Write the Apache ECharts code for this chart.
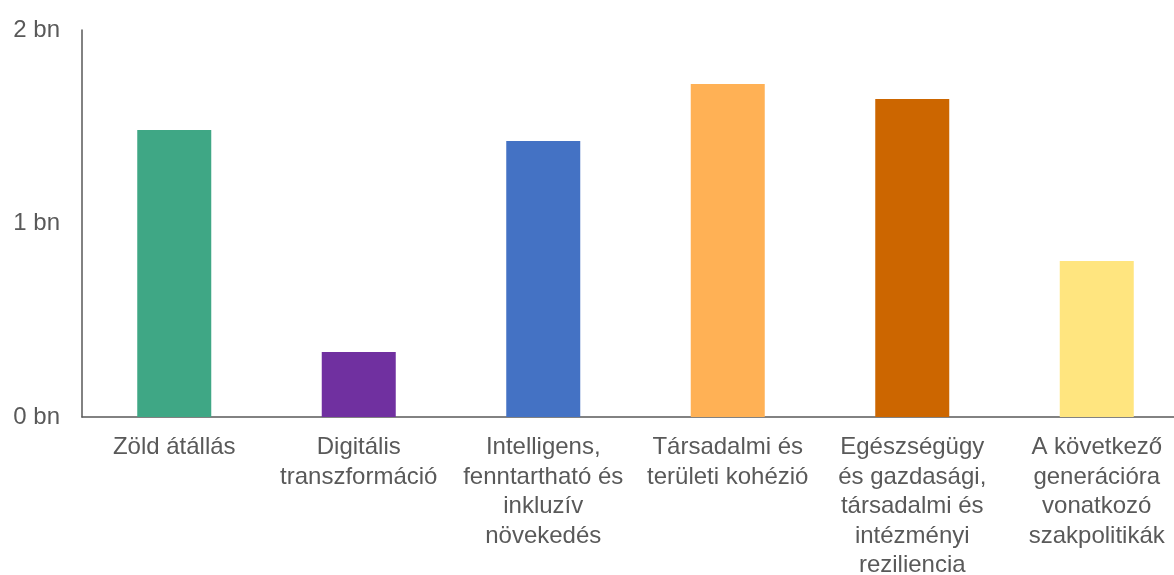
<!DOCTYPE html>
<html>
<head>
<meta charset="utf-8">
<script src="https://cdn.jsdelivr.net/npm/echarts@6/dist/echarts.min.js"></script>
<style>
  html, body { margin: 0; padding: 0; background: #fff; }
  #main { width: 1174px; height: 575px; }
</style>
</head>
<body>
<div id="main"></div>
<script>
// categories (line breaks as in the picture)
const categories = [
  'Zöld átállás',
  'Digitális\ntranszformáció',
  'Intelligens,\nfenntartható és\ninkluzív\nnövekedés',
  'Társadalmi és\nterületi kohézió',
  'Egészségügy\nés gazdasági,\ntársadalmi és\nintézményi\nreziliencia',
  'A következő\ngenerációra\nvonatkozó\nszakpolitikák'
];
// values in billions
const values = [1.483, 0.336, 1.426, 1.721, 1.643, 0.806];
const barColors = ['#3fa785', '#7030a0', '#4472c4', '#ffb155', '#cc6600', '#ffe57f'];
const yTicks = [0, 1, 2];

var myChart = echarts.init(document.getElementById('main'));
myChart.setOption({
  animation: false,
  grid: { left: 82, top: 30, width: 1107, height: 387, outerBoundsMode: 'none', containLabel: false },
  xAxis: {
    type: 'category',
    data: categories,
    axisLine: { lineStyle: { color: '#595959', width: 1.5 } },
    axisTick: { show: false },
    axisLabel: {
      interval: 0,
      color: '#595959',
      fontFamily: 'Liberation Sans, Arial, sans-serif',
      fontSize: 24,
      lineHeight: 29.5,
      margin: 16
    }
  },
  yAxis: {
    type: 'value',
    min: yTicks[0],
    max: yTicks[yTicks.length - 1],
    interval: 1,
    splitLine: { show: false },
    axisLine: { show: true, lineStyle: { color: '#595959', width: 1.5 } },
    axisTick: { show: false },
    axisLabel: {
      color: '#595959',
      fontFamily: 'Liberation Sans, Arial, sans-serif',
      fontSize: 24,
      margin: 22,
      formatter: function (v) { return v + ' bn'; }
    }
  },
  series: [{
    type: 'bar',
    barWidth: 74,
    data: values.map(function (v, i) {
      return { value: v, itemStyle: { color: barColors[i] } };
    })
  }]
});
</script>
</body>
</html>
